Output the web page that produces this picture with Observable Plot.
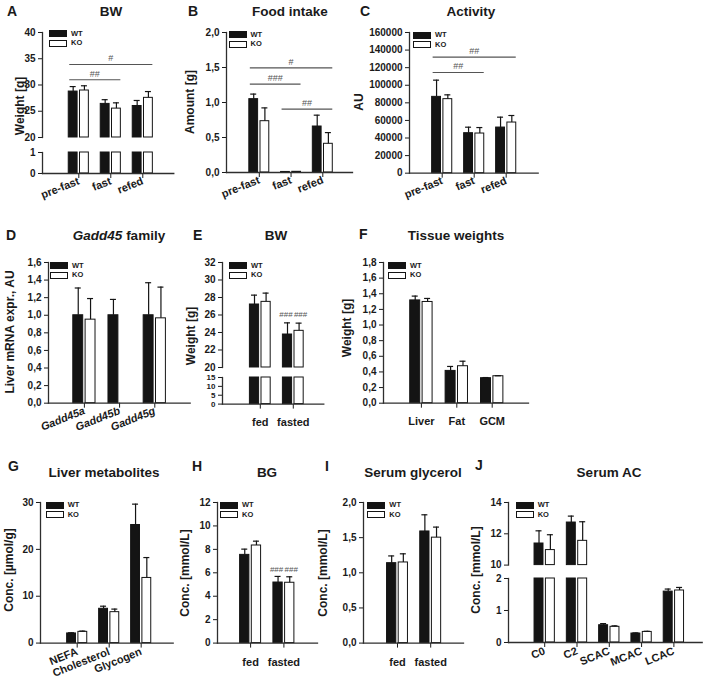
<!DOCTYPE html>
<html><head><meta charset="utf-8">
<script src="https://cdn.jsdelivr.net/npm/d3@7"></script>
<script src="https://cdn.jsdelivr.net/npm/@observablehq/plot@0.6"></script>
<style>
body{margin:0;background:#fff;}
#fig{position:relative;width:708px;height:692px;overflow:hidden;font-family:"Liberation Sans",Arial,sans-serif;color:#1a1a1a;}
.t{position:absolute;white-space:nowrap;font-weight:bold;line-height:1;}
.title{font-size:13.5px;transform:translate(-50%,-50%);}
.letter{font-size:14px;transform:translate(0,-50%);}
.ylab{font-size:12px;transform:translate(-50%,-50%) rotate(-90deg);}
</style></head><body><div id="fig"></div><script>
// ---------- DATA ----------
const groups = ["WT", "KO"];

// A: body weight
const catsA = ["pre-fast", "fast", "refed"];
const wtA = [28.75, 26.4, 26.0], wtAerr = [0.95, 0.8, 1.05];
const koA = [28.95, 25.5, 27.55], koAerr = [0.9, 1.1, 1.2];
const sigA = [{from: "pre-fast", to: "refed", y: 33.9, label: "#"}, {from: "pre-fast", to: "fast", y: 31.0, label: "##"}];
const ticksAUp = [20, 25, 30, 35, 40], ticksALow = [0, 1];

// B: food intake
const catsB = ["pre-fast", "fast", "refed"];
const wtB = [1.048, 0.008, 0.657], wtBerr = [0.072, 0, 0.162];
const koB = [0.733, 0.01, 0.41], koBerr = [0.19, 0, 0.16];
const sigB = [{from: "pre-fast", to: "refed", y: 1.495, label: "#"}, {from: "pre-fast", to: "fast", y: 1.262, label: "###"}, {from: "fast", to: "refed", y: 0.905, label: "##"}];
const ticksB = [0, 0.5, 1, 1.5, 2];

// C: activity
const catsC = ["pre-fast", "fast", "refed"];
const wtC = [86800, 45500, 51900], wtCerr = [19000, 6800, 11800];
const koC = [84200, 45100, 57600], koCerr = [4900, 6800, 8000];
const sigC = [{from: "pre-fast", to: "refed", y: 132000, label: "##"}, {from: "pre-fast", to: "fast", y: 114500, label: "##"}];
const ticksC = [0, 20000, 40000, 60000, 80000, 100000, 120000, 140000, 160000];

// D: Gadd45 family
const catsD = ["Gadd45a", "Gadd45b", "Gadd45g"];
const wtD = [1.0, 1.0, 1.0], wtDerr = [0.31, 0.18, 0.37];
const koD = [0.95, null, 0.965], koDerr = [0.24, null, 0.355];
const ticksD = [0, 0.2, 0.4, 0.6, 0.8, 1.0, 1.2, 1.4, 1.6];

// E: BW fed / fasted
const catsE = ["fed", "fasted"];
const wtE = [27.2, 23.77], wtEerr = [1.07, 1.33];
const koE = [27.5, 24.19], koEerr = [1.0, 0.88];
const hashE = [{cat: "fasted", group: "WT", y: 26.1, label: "###"}, {cat: "fasted", group: "KO", y: 26.1, label: "###"}];
const ticksEUp = [20, 22, 24, 26, 28, 30, 32], ticksELow = [0, 5, 10, 15];

// F: tissue weights
const catsF = ["Liver", "Fat", "GCM"];
const wtF = [1.315, 0.413, 0.32], wtFerr = [0.055, 0.057, 0.008];
const koF = [1.295, 0.473, 0.345], koFerr = [0.045, 0.064, 0.006];
const ticksF = [0, 0.2, 0.4, 0.6, 0.8, 1.0, 1.2, 1.4, 1.6, 1.8];

// G: liver metabolites
const catsG = ["NEFA", "Cholesterol", "Glycogen"];
const wtG = [2.06, 7.32, 25.2], wtGerr = [0.14, 0.55, 4.45];
const koG = [2.4, 6.6, 13.9], koGerr = [0.16, 0.65, 4.35];
const ticksG = [0, 10, 20, 30];

// H: blood glucose
const catsH = ["fed", "fasted"];
const wtH = [7.53, 5.17], wtHerr = [0.49, 0.52];
const koH = [8.33, 5.15], koHerr = [0.37, 0.51];
const hashH = [{cat: "fasted", group: "WT", y: 6.3, label: "###"}, {cat: "fasted", group: "KO", y: 6.3, label: "###"}];
const ticksH = [0, 2, 4, 6, 8, 10, 12];

// I: serum glycerol
const catsI = ["fed", "fasted"];
const wtI = [1.137, 1.588], wtIerr = [0.103, 0.237];
const koI = [1.147, 1.50], koIerr = [0.123, 0.15];
const ticksI = [0, 0.5, 1, 1.5, 2];

// J: serum acylcarnitines
const catsJ = ["C0", "C2", "SCAC", "MCAC", "LCAC"];
const wtJ = [11.38, 12.72, 0.54, 0.28, 1.59], wtJerr = [0.81, 0.41, 0.05, 0.02, 0.08];
const koJ = [10.96, 11.55, 0.49, 0.33, 1.625], koJerr = [0.98, 1.22, 0.03, 0.02, 0.095];
const ticksJUp = [10, 12, 14], ticksJLow = [0, 1, 2];

// ---------- HELPERS ----------
const fig = document.getElementById("fig");
const comma = d => d3.format(".1f")(d).replace(".", ",");
const intf = d => String(d);
const INK = "#141414", AX = "#2e2e2e";

function rows(cats, wt, wtErr, ko, koErr) {
  const out = [];
  cats.forEach((c, i) => {
    if (wt[i] != null) out.push({cat: c, group: groups[0], v: wt[i], e: wtErr[i]});
    if (ko[i] != null) out.push({cat: c, group: groups[1], v: ko[i], e: koErr[i]});
  });
  return out;
}

const ML = 50, MR = 6, MT = 6, MB = 50, PI = 0.34;

function section(p, s, data) {
  const width = p.x1 - p.x0 + ML + MR;
  const height = s.bottom - s.top + MT + MB;
  const left = p.x0 - ML, top = s.top - MT;
  const n = p.cats.length;
  const r0 = p.c0 - p.step / 2 - left;
  const bw = p.step * (1 - PI);
  const e = 0.5, g = 1.2;
  const cW = (e + bw / 2 - g) / 2, cK = bw - cW;
  const cap = 3;
  const [lo, hi] = s.domain;
  const marks = [];
  groups.forEach((grp, gi) => {
    const isWT = gi === 0;
    marks.push(Plot.barY(data.filter(d => d.group === grp && d.v > lo), {
      x: "cat", y1: () => lo, y2: d => Math.min(d.v, hi),
      fill: isWT ? INK : "#fff", stroke: INK, strokeWidth: 1,
      insetLeft: isWT ? e : bw / 2 + g, insetRight: isWT ? bw / 2 + g : e
    }));
  });
  groups.forEach((grp, gi) => {
    const isWT = gi === 0;
    const c = isWT ? cW : cK;
    const ed = data.filter(d => d.group === grp && d.e && d.v >= lo && d.v <= hi);
    marks.push(Plot.ruleX(ed, {x: "cat", y1: "v", y2: d => d.v + d.e, dx: c - bw / 2, stroke: INK, strokeWidth: 1.2}));
    marks.push(Plot.tickY(ed, {x: "cat", y: d => d.v + d.e, insetLeft: c - cap, insetRight: bw - c - cap, stroke: INK, strokeWidth: 1.2}));
  });
  (p.sig || []).filter(d => d.y >= lo && d.y <= hi).forEach(sg => {
    marks.push(Plot.ruleY([sg], {y: "y", x1: "from", x2: "to", insetLeft: 1.5, insetRight: 0.5, stroke: "#555", strokeWidth: 1.2}));
    const span = p.cats.indexOf(sg.to) - p.cats.indexOf(sg.from);
    marks.push(Plot.text([sg], {x: "from", y: "y", text: "label", dx: span * p.step / 2, dy: -6, fill: "#555", fontWeight: "normal", fontSize: 9}));
  });
  if (p.hash) {
    groups.forEach((grp, gi) => {
      const c = gi === 0 ? cW - 1.5 : cK + 1.5;
      marks.push(Plot.text(p.hash.filter(d => d.group === grp && d.y >= lo && d.y <= hi), {x: "cat", y: "y", text: "label", dx: c - bw / 2, fill: "#555", fontWeight: "normal", fontSize: 8}));
    });
  }
  marks.push(Plot.frame({anchor: "left", stroke: AX, strokeWidth: 1.3}));
  if (s.xAxis) marks.push(Plot.frame({anchor: "bottom", stroke: AX, strokeWidth: 1.3}));

  const xBase = {type: "band", domain: p.cats, range: [r0, r0 + n * p.step], paddingInner: PI, paddingOuter: PI / 2, align: 0.5, round: false};
  const svg = Plot.plot({
    width, height, marginLeft: ML, marginRight: MR, marginTop: MT, marginBottom: MB,
    style: {background: "transparent", overflow: "visible", fontFamily: "Liberation Sans, Arial, sans-serif", fontSize: "10px", fontWeight: "bold", color: "#1a1a1a"},
    x: s.xAxis ? {...xBase, label: null, tickSize: 5, tickPadding: p.xPad, tickRotate: p.rot || 0} : {...xBase, axis: null},
    y: {domain: s.domain, ticks: s.ticks, tickFormat: p.fmt, tickSize: 4, tickPadding: 3, label: null},
    marks
  });
  svg.style.position = "absolute";
  svg.style.left = left + "px";
  svg.style.top = top + "px";
  svg.querySelectorAll('[aria-label="x-axis tick label"] text').forEach(t => {
    t.style.fontSize = "11px";
    if (p.italic) t.style.fontStyle = "italic";
  });
  if (s.yFont) svg.querySelectorAll('[aria-label="y-axis tick label"] text').forEach(t => { t.style.fontSize = s.yFont; });
  fig.appendChild(svg);
}

function legend(x, y) {
  groups.forEach((lab, i) => {
    const r = document.createElement("div");
    r.style.cssText = `position:absolute;left:${x}px;top:${y + i * 9.5}px;width:16px;height:5px;background:${i === 0 ? INK : "#fff"};border:1px solid ${INK};`;
    fig.appendChild(r);
    const t = document.createElement("div");
    t.className = "t";
    t.style.cssText += `left:${x + 22}px;top:${y + i * 9.5 - 0.5}px;font-size:7.5px;`;
    t.textContent = lab;
    fig.appendChild(t);
  });
}

function label(cls, html, x, y) {
  const d = document.createElement("div");
  d.className = "t " + cls;
  d.style.left = x + "px";
  d.style.top = y + "px";
  d.innerHTML = html;
  fig.appendChild(d);
}

// ---------- PANELS ----------
const panels = [
  {cats: catsA, data: rows(catsA, wtA, wtAerr, koA, koAerr), sig: sigA, fmt: intf, x0: 41.7, x1: 173, c0: 78, step: 32, rot: -22, xPad: 2,
   secs: [{top: 32, bottom: 137, domain: [20, 40], ticks: ticksAUp}, {top: 152, bottom: 173, domain: [0, 1], ticks: ticksALow, xAxis: true}],
   leg: [49, 30], letter: ["A", 7, 11], title: ["BW", 111, 12], ylab: ["Weight [g]", 20, 106]},
  {cats: catsB, data: rows(catsB, wtB, wtBerr, koB, koBerr), sig: sigB, fmt: comma, x0: 225.7, x1: 351.7, c0: 258.5, step: 31.75, rot: -22, xPad: 2,
   secs: [{top: 32.3, bottom: 172.3, domain: [0, 2], ticks: ticksB, xAxis: true}],
   leg: [228.5, 31], letter: ["B", 188, 11], title: ["Food intake", 290, 12], ylab: ["Amount [g]", 190, 102]},
  {cats: catsC, data: rows(catsC, wtC, wtCerr, koC, koCerr), sig: sigC, fmt: intf, x0: 409, x1: 537.7, c0: 441.7, step: 32, rot: -22, xPad: 2,
   secs: [{top: 32.3, bottom: 173, domain: [0, 160000], ticks: ticksC, xAxis: true}],
   leg: [413, 31.5], letter: ["C", 360, 11], title: ["Activity", 471, 12], ylab: ["AU", 359, 102]},
  {cats: catsD, data: rows(catsD, wtD, wtDerr, koD, koDerr), fmt: comma, italic: true, x0: 48.3, x1: 190, c0: 84.2, step: 35.2, rot: -22, xPad: 2,
   secs: [{top: 262.3, bottom: 403, domain: [0, 1.6], ticks: ticksD, xAxis: true}],
   leg: [50, 262], letter: ["D", 6, 235], title: ["<i>Gadd45</i> family", 119, 236], ylab: ["Liver mRNA expr., AU", 10, 332]},
  {cats: catsE, data: rows(catsE, wtE, wtEerr, koE, koEerr), hash: hashE, fmt: intf, x0: 221.7, x1: 323, c0: 259.5, step: 33, rot: 0, xPad: 9,
   secs: [{top: 261.7, bottom: 366.7, domain: [20, 32], ticks: ticksEUp}, {top: 376.7, bottom: 403.3, domain: [0, 15], ticks: ticksELow, xAxis: true, yFont: "8px"}],
   leg: [229, 262], letter: ["E", 193, 235], title: ["BW", 276, 236], ylab: ["Weight [g]", 191, 336]},
  {cats: catsF, data: rows(catsF, wtF, wtFerr, koF, koFerr), fmt: comma, x0: 383.3, x1: 528.3, c0: 421.2, step: 35.4, rot: 0, xPad: 9,
   secs: [{top: 262.3, bottom: 403, domain: [0, 1.8], ticks: ticksF, xAxis: true}],
   leg: [388, 262], letter: ["F", 359, 234], title: ["Tissue weights", 456, 236], ylab: ["Weight [g]", 347, 328]},
  {cats: catsG, data: rows(catsG, wtG, wtGerr, koG, koGerr), fmt: intf, x0: 40, x1: 172.7, c0: 76.7, step: 32, rot: -22, xPad: 3,
   secs: [{top: 501.7, bottom: 642.3, domain: [0, 30], ticks: ticksG, xAxis: true}],
   leg: [45.7, 501.5], letter: ["G", 8, 466], title: ["Liver metabolites", 104, 473], ylab: ["Conc. [µmol/g]", 9, 570]},
  {cats: catsH, data: rows(catsH, wtH, wtHerr, koH, koHerr), hash: hashH, fmt: intf, x0: 216.7, x1: 316.7, c0: 249.8, step: 33.3, rot: 0, xPad: 10,
   secs: [{top: 501.7, bottom: 642.3, domain: [0, 12], ticks: ticksH, xAxis: true}],
   leg: [220, 501.5], letter: ["H", 192, 466], title: ["BG", 267, 473], ylab: ["Conc. [mmol/L]", 185, 573]},
  {cats: catsI, data: rows(catsI, wtI, wtIerr, koI, koIerr), fmt: comma, x0: 362.7, x1: 462.7, c0: 396.7, step: 33.2, rot: 0, xPad: 10,
   secs: [{top: 501.7, bottom: 642.3, domain: [0, 2], ticks: ticksI, xAxis: true}],
   leg: [367.3, 501.5], letter: ["I", 325, 466], title: ["Serum glycerol", 413, 473], ylab: ["Conc. [mmol/L]", 323, 573]},
  {cats: catsJ, data: rows(catsJ, wtJ, wtJerr, koJ, koJerr), fmt: intf, x0: 508, x1: 701.7, c0: 544.2, step: 32.3, rot: -22, xPad: 3,
   secs: [{top: 501.7, bottom: 564.3, domain: [10, 14], ticks: ticksJUp}, {top: 578.3, bottom: 642.3, domain: [0, 2], ticks: ticksJLow, xAxis: true}],
   leg: [515.7, 501.5], letter: ["J", 475, 465], title: ["Serum AC", 609, 473], ylab: ["Conc. [mmol/L]", 476, 570]}
];

for (const p of panels) {
  for (const s of p.secs) section(p, s, p.data);
  legend(p.leg[0], p.leg[1]);
  label("letter", p.letter[0], p.letter[1], p.letter[2]);
  label("title", p.title[0], p.title[1], p.title[2]);
  label("ylab", p.ylab[0], p.ylab[1], p.ylab[2]);
}
</script></body></html>
